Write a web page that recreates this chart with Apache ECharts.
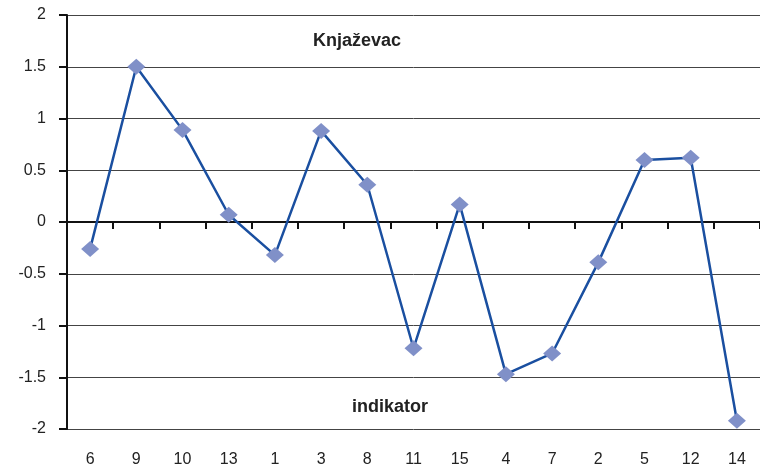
<!DOCTYPE html>
<html>
<head>
<meta charset="utf-8">
<script src="https://cdn.jsdelivr.net/npm/echarts@6/dist/echarts.min.js"></script>
<style>
  html, body { margin: 0; padding: 0; background: #fff; }
  #main { width: 760px; height: 470px; }
</style>
</head>
<body>
<div id="main"></div>
<script>
const categories = ['6', '9', '10', '13', '1', '3', '8', '11', '15', '4', '7', '2', '5', '12', '14']
const values = [-0.26, 1.5, 0.89, 0.07, -0.32, 0.88, 0.36, -1.22, 0.17, -1.47, -1.27, -0.39, 0.6, 0.62, -1.92]
const chartTitle = 'Knjaževac'
const axisName = 'indikator'

const chartDom = document.getElementById('main')
const myChart = echarts.init(chartDom)
const font = 'Liberation Sans'
const option = {
  animation: false,
  grid: { left: 67, width: 696, top: 15, bottom: 41 },
  graphic: [
    {
      type: 'text', left: 313, top: 32,
      style: { text: chartTitle, font: 'bold 18px "Liberation Sans"', fill: '#222' }
    },
    {
      type: 'text', left: 352, top: 398,
      style: { text: axisName, font: 'bold 18px "Liberation Sans"', fill: '#222' }
    }
  ],
  xAxis: [
    {
      type: 'category',
      data: categories,
      axisLine: { onZero: true, lineStyle: { color: '#111', width: 2 } },
      axisTick: { show: true, length: 7, lineStyle: { color: '#111', width: 2 } },
      axisLabel: { show: false }
    },
    {
      type: 'category',
      data: categories,
      position: 'bottom',
      axisLine: { show: false, onZero: false },
      axisTick: { show: false },
      axisLabel: { margin: 23, fontFamily: font, fontSize: 16, color: '#222', interval: 0 }
    }
  ],
  yAxis: {
    type: 'value',
    min: -2,
    max: 2,
    interval: 0.5,
    axisLine: { show: true, lineStyle: { color: '#111', width: 2 } },
    axisTick: { show: true, length: 8, lineStyle: { color: '#111', width: 2 } },
    axisLabel: { margin: 21, fontFamily: font, fontSize: 16, color: '#222' },
    splitLine: { lineStyle: { color: '#444', width: 1 } }
  },
  series: [
    {
      type: 'line',
      data: values,
      xAxisIndex: 0,
      symbol: 'diamond',
      symbolSize: [18, 16],
      lineStyle: { color: '#1a4fa0', width: 2.5 },
      itemStyle: { color: '#8090c8' }
    }
  ]
}
option && myChart.setOption(option)
</script>
</body>
</html>
